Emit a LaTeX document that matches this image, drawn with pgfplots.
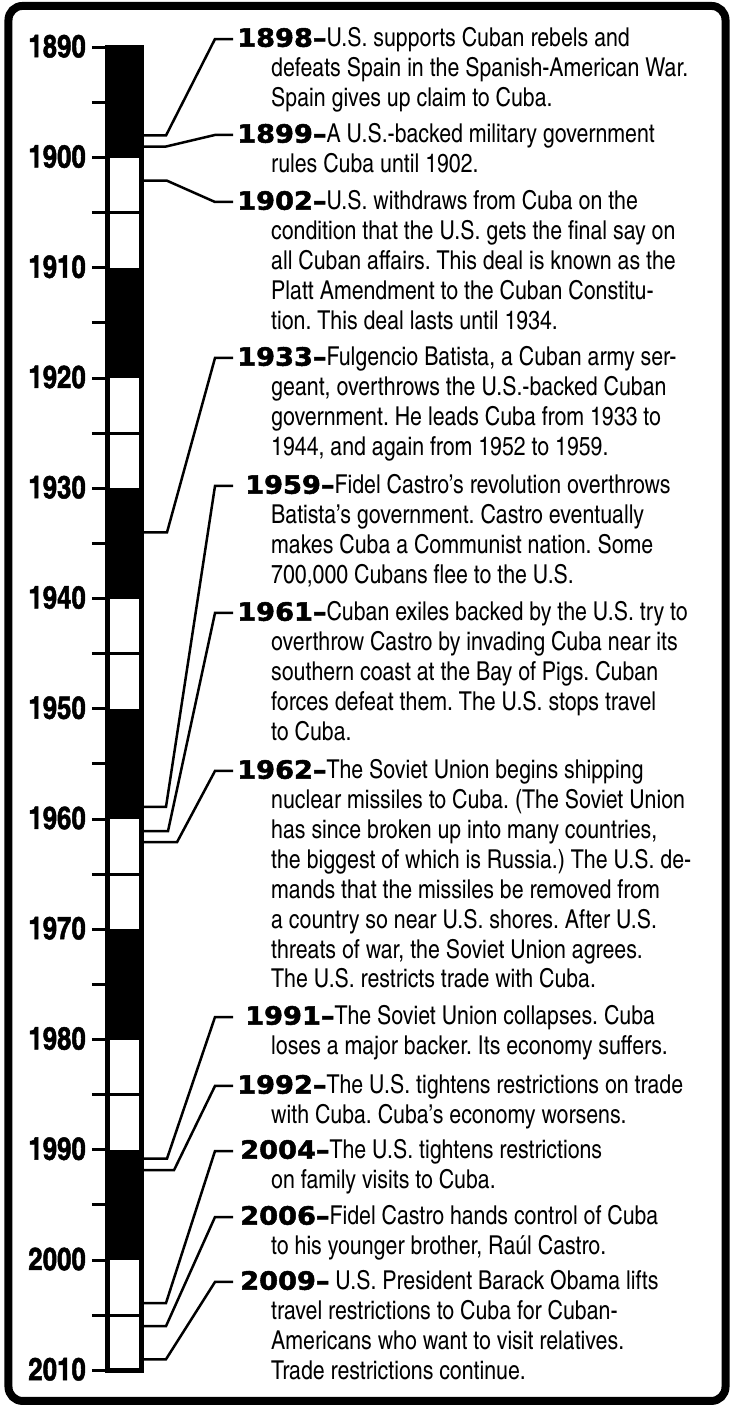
\documentclass[border=0pt]{standalone}
\usepackage{fontspec}
\usepackage{pgfplots}
\pgfplotsset{compat=1.18}
\setmainfont{texgyreheroscn}[Extension=.otf, UprightFont=*-regular, BoldFont=*-bold]
\newfontfamily\yrfont{DejaVu Sans}[UprightFeatures={FakeBold=2, FakeStretch=1.08}, BoldFeatures={FakeBold=2, FakeStretch=1.08}]
\newfontfamily\tkfont{texgyreheroscn}[Extension=.otf, UprightFont=*-bold, FakeBold=1.5]
\newcommand{\yr}{\yrfont\bfseries\fontsize{25.2pt}{29.9pt}\selectfont}
\newcommand{\bodyfont}{\fontsize{26pt}{29.9pt}\selectfont}
\newcommand{\tickfont}{\tkfont\fontsize{31.5pt}{32pt}\selectfont}
\newcommand{\Ls}{\baselineskip=29.9pt\lineskiplimit=-20pt\relax}
\frenchspacing
\begin{document}
\begin{tikzpicture}
\begin{axis}[
  scale only axis, width=39pt, height=1405pt,
  xmin=105, xmax=144, ymin=1885.71, ymax=2013.15,
  y dir=reverse, clip=false,
  axis line style={draw=none},
  xtick=\empty,
  ytick={1890,1900,1910,1920,1930,1940,1950,1960,1970,1980,1990,2000,2010},
  yticklabels={1890,1900,1910,1920,1930,1940,1950,1960,1970,1980,1990,2000,2010},
  minor ytick={1895,1905,1915,1925,1935,1945,1955,1965,1975,1985,1995,2005},
  ytick pos=left, tick align=outside,
  major tick length=13pt, minor tick length=13pt,
  tick style={line width=3pt, black},
  yminorgrids=true, minor grid style={line width=3pt, black},
  yticklabel style={font=\tickfont, anchor=east, inner sep=0pt, xshift=-6pt, yshift=1pt},
]
% black decades
\addplot[fill=black, draw=none] coordinates {(105,1890) (144,1890) (144,1900) (105,1900)} -- cycle;
\addplot[fill=black, draw=none] coordinates {(105,1910) (144,1910) (144,1920) (105,1920)} -- cycle;
\addplot[fill=black, draw=none] coordinates {(105,1930) (144,1930) (144,1940) (105,1940)} -- cycle;
\addplot[fill=black, draw=none] coordinates {(105,1950) (144,1950) (144,1960) (105,1960)} -- cycle;
\addplot[fill=black, draw=none] coordinates {(105,1970) (144,1970) (144,1980) (105,1980)} -- cycle;
\addplot[fill=black, draw=none] coordinates {(105,1990) (144,1990) (144,2000) (105,2000)} -- cycle;
% bar outline
\addplot[draw=black, line width=5pt] coordinates {(107.5,1890) (141.5,1890) (141.5,2010) (107.5,2010)} -- cycle;
% leader lines
\addplot[black, line width=2.5pt] coordinates {(144,1898) (166,1898) (215,1889.25) (233,1889.25)};
\addplot[black, line width=2.5pt] coordinates {(144,1899) (166,1899) (215,1897.95) (233,1897.95)};
\addplot[black, line width=2.5pt] coordinates {(144,1902.1) (167,1902.1) (215,1904.03) (233,1904.03)};
\addplot[black, line width=2.5pt] coordinates {(144,1934) (167,1934) (215,1918.18) (233,1918.18)};
\addplot[black, line width=2.5pt] coordinates {(144,1958.9) (166,1958.9) (215,1929.79) (233,1929.79)};
\addplot[black, line width=2.5pt] coordinates {(144,1961.1) (168,1961.1) (215,1941.31) (233,1941.31)};
\addplot[black, line width=2.5pt] coordinates {(144,1962.1) (177,1962.1) (215,1955.64) (233,1955.64)};
\addplot[black, line width=2.5pt] coordinates {(144,1990.8) (167,1990.8) (215,1977.96) (233,1977.96)};
\addplot[black, line width=2.5pt] coordinates {(144,1991.85) (174,1991.85) (215,1984.21) (233,1984.21)};
\addplot[black, line width=2.5pt] coordinates {(144,2003.9) (166,2003.9) (215,1990.11) (233,1990.11)};
\addplot[black, line width=2.5pt] coordinates {(144,2006) (166,2006) (215,1996.10) (233,1996.10)};
\addplot[black, line width=2.5pt] coordinates {(144,2009) (166,2009) (215,2001.99) (233,2001.99)};
% frame
\draw[line width=8pt, rounded corners=14pt] (axis cs:8.5,1886.25) rectangle (axis cs:725.5,2012.78);
% texts
\tikzset{ev/.style={anchor=base west, inner sep=0pt, font=\bodyfont}}
\node[ev] at (axis cs:237,1889.95) {\vtop{\Ls
 \hbox{{\yr 1898–}U.S. supports Cuban rebels and}
 \hbox{\hskip34pt defeats Spain in the Spanish-American War.}
 \hbox{\hskip34pt Spain gives up claim to Cuba.}}};
\node[ev] at (axis cs:237,1898.65) {\vtop{\Ls
 \hbox{{\yr 1899–}A U.S.-backed military government}
 \hbox{\hskip34pt rules Cuba until 1902.}}};
\node[ev] at (axis cs:237,1904.73) {\vtop{\Ls
 \hbox{{\yr 1902–}U.S. withdraws from Cuba on the}
 \hbox{\hskip34pt condition that the U.S. gets the final say on}
 \hbox{\hskip34pt all Cuban affairs. This deal is known as the}
 \hbox{\hskip34pt Platt Amendment to the Cuban Constitu-}
 \hbox{\hskip34pt tion. This deal lasts until 1934.}}};
\node[ev] at (axis cs:237,1918.88) {\vtop{\Ls
 \hbox{{\yr 1933–}Fulgencio Batista, a Cuban army ser-}
 \hbox{\hskip34pt geant, overthrows the U.S.-backed Cuban}
 \hbox{\hskip34pt government. He leads Cuba from 1933 to}
 \hbox{\hskip34pt 1944, and again from 1952 to 1959.}}};
\node[ev] at (axis cs:245,1930.49) {\vtop{\Ls
 \hbox{{\yr 1959–}Fidel Castro's revolution overthrows}
 \hbox{\hskip26pt Batista's government. Castro eventually}
 \hbox{\hskip26pt makes Cuba a Communist nation. Some}
 \hbox{\hskip26pt 700,000 Cubans flee to the U.S.}}};
\node[ev] at (axis cs:237,1942.01) {\vtop{\Ls
 \hbox{{\yr 1961–}Cuban exiles backed by the U.S. try to}
 \hbox{\hskip34pt overthrow Castro by invading Cuba near its}
 \hbox{\hskip34pt southern coast at the Bay of Pigs. Cuban}
 \hbox{\hskip34pt forces defeat them. The U.S. stops travel}
 \hbox{\hskip34pt to Cuba.}}};
\node[ev] at (axis cs:237,1956.34) {\vtop{\Ls
 \hbox{{\yr 1962–}The Soviet Union begins shipping}
 \hbox{\hskip34pt nuclear missiles to Cuba. (The Soviet Union}
 \hbox{\hskip34pt has since broken up into many countries,}
 \hbox{\hskip34pt the biggest of which is Russia.) The U.S. de-}
 \hbox{\hskip34pt mands that the missiles be removed from}
 \hbox{\hskip34pt a country so near U.S. shores. After U.S.}
 \hbox{\hskip34pt threats of war, the Soviet Union agrees.}
 \hbox{\hskip34pt The U.S. restricts trade with Cuba.}}};
\node[ev] at (axis cs:245,1978.65) {\vtop{\Ls
 \hbox{{\yr 1991–}The Soviet Union collapses. Cuba}
 \hbox{\hskip26pt loses a major backer. Its economy suffers.}}};
\node[ev] at (axis cs:237,1984.91) {\vtop{\Ls
 \hbox{{\yr 1992–}The U.S. tightens restrictions on trade}
 \hbox{\hskip34pt with Cuba. Cuba's economy worsens.}}};
\node[ev] at (axis cs:240,1990.81) {\vtop{\Ls
 \hbox{{\yr 2004–}The U.S. tightens restrictions}
 \hbox{\hskip31pt on family visits to Cuba.}}};
\node[ev] at (axis cs:240,1996.79) {\vtop{\Ls
 \hbox{{\yr 2006–}Fidel Castro hands control of Cuba}
 \hbox{\hskip31pt to his younger brother, Raúl Castro.}}};
\node[ev] at (axis cs:240,2002.69) {\vtop{\Ls
 \hbox{{\yr 2009–} U.S. President Barack Obama lifts}
 \hbox{\hskip31pt travel restrictions to Cuba for Cuban-}
 \hbox{\hskip31pt Americans who want to visit relatives.}
 \hbox{\hskip31pt Trade restrictions continue.}}};
\coordinate (BBa) at (axis cs:0,1885.71);
\coordinate (BBb) at (axis cs:730,2013.15);
\end{axis}
\pgfresetboundingbox
\path[use as bounding box] (BBa) rectangle (BBb);
\end{tikzpicture}
\end{document}
